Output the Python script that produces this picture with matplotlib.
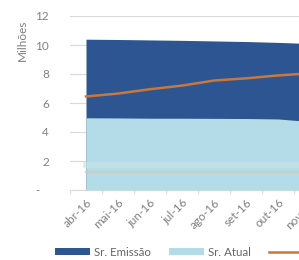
import matplotlib
matplotlib.use("Agg")
import matplotlib.pyplot as plt
import numpy as np

categories = ["abr-16", "mai-16", "jun-16", "jul-16", "ago-16", "set-16", "out-16", "nov-16"]
sr_emissao = [10.40, 10.38, 10.35, 10.32, 10.28, 10.24, 10.18, 10.10]
sr_atual = [4.98, 4.97, 4.95, 4.95, 4.94, 4.93, 4.90, 4.72]
orange_line = [6.45, 6.65, 6.95, 7.20, 7.55, 7.70, 7.90, 8.05]
faint_line = [1.25, 1.25, 1.25, 1.25, 1.25, 1.25, 1.25, 1.25]
pale_line = [1.75, 1.75, 1.75, 1.75, 1.75, 1.75, 1.75, 1.75]
yticks = [0, 2, 4, 6, 8, 10, 12]
ytick_labels = ["-   ", "2", "4", "6", "8", "10", "12"]

plt.rcParams['font.family'] = ['Lato', 'DejaVu Sans']

W, H = 299, 260
fig = plt.figure(figsize=(W / 100, H / 100), dpi=100)
ax = fig.add_axes([70 / W, 1 - 190 / H, 256 / W, 174 / H])

x = np.arange(len(categories))
dark = '#2c5591'
light = '#b4dce8'
orange = '#c8783c'

ax.fill_between(x, 0, sr_emissao, color=dark, lw=0, zorder=2, label='Sr. Emissão')
ax.fill_between(x, 0, sr_atual, color=light, lw=0, zorder=3, label='Sr. Atual')
ax.plot(x, pale_line, color='#c4e4e4', lw=4, zorder=4, alpha=0.7)
ax.plot(x, faint_line, color='#d4c8b4', lw=1.6, zorder=4, alpha=0.75)
ax.plot(x, orange_line, color=orange, lw=1.8, zorder=5, label='Sr. Mercado')

ax.set_xlim(-0.5, 7.5)
ax.set_ylim(0, 12)
ax.set_yticks(yticks)
ax.set_yticklabels(ytick_labels)
ax.set_xticks(x)
ax.set_xticklabels(categories, rotation=45, ha='right', va='top', rotation_mode='anchor')
ax.set_xticks(np.arange(len(categories) + 1) - 0.5, minor=True)

ax.grid(axis='y', color='#d9d9d9', lw=0.8, zorder=0)
ax.set_axisbelow(True)
for s in ['top', 'right', 'left']:
    ax.spines[s].set_visible(False)
ax.spines['bottom'].set_color('#d9d9d9')
ax.spines['bottom'].set_linewidth(0.8)
ax.tick_params(axis='both', which='major', length=0, labelsize=8.5, colors='#808080')
ax.tick_params(axis='x', which='minor', length=3, color='#d9d9d9', width=0.8)
ax.tick_params(axis='y', pad=15)
ax.tick_params(axis='x', pad=5)

fig.text(22 / W, 1 - 40 / H, 'Milhões', rotation=90, ha='center', va='center',
         fontsize=8.5, color='#7f7f7f')

handles, labels = ax.get_legend_handles_labels()
fig.legend(handles, labels, loc='center left', bbox_to_anchor=(55 / W, 1 - 252 / H),
           ncol=3, frameon=False, fontsize=8.3, labelcolor='#666666',
           handlelength=3.0, handleheight=0.55, handletextpad=0.35, columnspacing=1.6,
           borderpad=0, borderaxespad=0)

fig.savefig('out.png', dpi=100)
